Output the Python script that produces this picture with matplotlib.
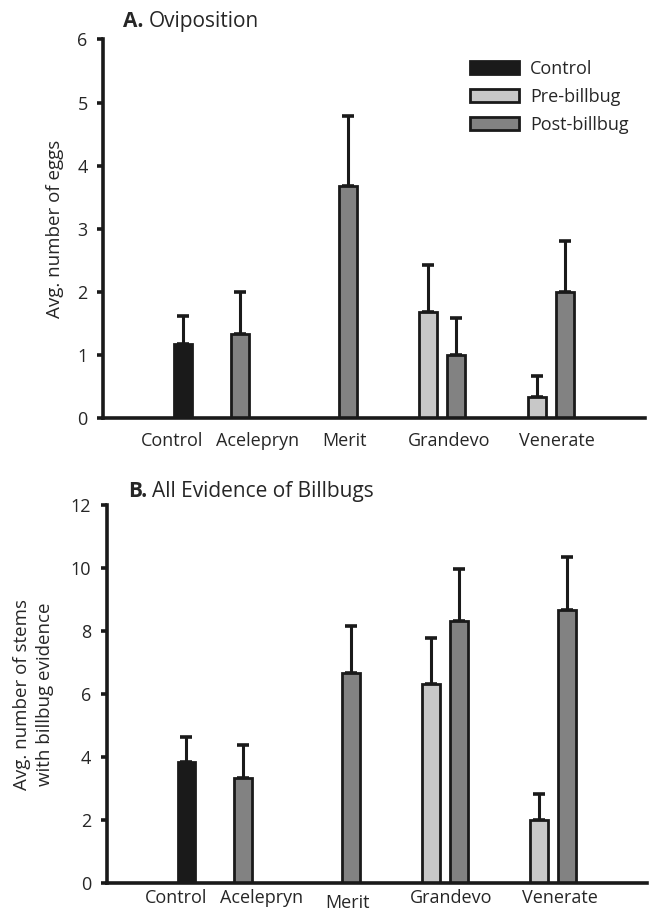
import numpy as np
import matplotlib
matplotlib.use("Agg")
import matplotlib.pyplot as plt
from matplotlib.patches import Patch
from matplotlib.transforms import blended_transform_factory, offset_copy

# ---------------- data ----------------
categories = ["Control", "Acelepryn", "Merit", "Grandevo", "Venerate"]
series_names = ["Control", "Pre-billbug", "Post-billbug"]

# Panel A: oviposition (avg. number of eggs)
a_control = [1.17, np.nan, np.nan, np.nan, np.nan]
a_control_err = [0.45, 0, 0, 0, 0]
a_pre = [np.nan, np.nan, np.nan, 1.67, 0.33]
a_pre_err = [0, 0, 0, 0.75, 0.33]
a_post = [np.nan, 1.33, 3.67, 1.00, 2.00]
a_post_err = [0, 0.67, 1.11, 0.58, 0.80]

# Panel B: all evidence of billbugs (avg. number of stems)
b_control = [3.83, np.nan, np.nan, np.nan, np.nan]
b_control_err = [0.80, 0, 0, 0, 0]
b_pre = [np.nan, np.nan, np.nan, 6.33, 2.00]
b_pre_err = [0, 0, 0, 1.45, 0.83]
b_post = [np.nan, 3.33, 6.67, 8.33, 8.67]
b_post_err = [0, 1.06, 1.49, 1.64, 1.68]

a_yticks = [0, 1, 2, 3, 4, 5, 6]
b_yticks = [0, 2, 4, 6, 8, 10, 12]

# ---------------- style ----------------
plt.rcParams["font.family"] = ["Open Sans", "DejaVu Sans"]
TXT = "#262626"
EDGE = "#1a1a1a"
C_CTRL = "#1a1a1a"
C_PRE = "#c8c8c8"
C_POST = "#828282"
FS = 13

W, H = 668, 911
fig = plt.figure(figsize=(W / 100, H / 100), dpi=100)


def rect(l, r, t, b):
    return [l / W, 1 - b / H, (r - l) / W, (b - t) / H]


axA = fig.add_axes(rect(103, 645, 39.5, 417.7))
axB = fig.add_axes(rect(106.5, 647, 505, 883))

offsets = {"Control": 0.74, "Pre-billbug": 0.0, "Post-billbug": 0.26}
colors = {"Control": C_CTRL, "Pre-billbug": C_PRE, "Post-billbug": C_POST}
label_x = [0.64, 1.43, 2.23, 3.19, 4.19]
BW = 0.165


def draw(ax, ctrl, ctrl_e, pre, pre_e, post, post_e, yticks, label_dy, merit_extra):
    idx = np.arange(len(categories))
    for name, vals, errs in [("Control", ctrl, ctrl_e),
                             ("Pre-billbug", pre, pre_e),
                             ("Post-billbug", post, post_e)]:
        v = np.array(vals, float)
        e = np.array(errs, float)
        m = ~np.isnan(v)
        ax.bar(idx[m] + offsets[name], v[m], width=BW, color=colors[name],
               edgecolor=EDGE, linewidth=2, zorder=2,
               yerr=[np.zeros(m.sum()), e[m]],
               error_kw=dict(ecolor=EDGE, elinewidth=2.2, capsize=4.5,
                             capthick=2.6, zorder=1))
    ax.set_xlim(0, 5)
    ax.set_ylim(yticks[0], yticks[-1])
    ax.set_yticks(yticks)
    for s in ["top", "right"]:
        ax.spines[s].set_visible(False)
    for s in ["left", "bottom"]:
        ax.spines[s].set_linewidth(2.6)
        ax.spines[s].set_color(EDGE)
        ax.spines[s].set_zorder(3)
    ax.tick_params(axis="y", direction="out", length=4, width=2.6,
                   color=EDGE, labelsize=FS, labelcolor=TXT, pad=7)
    ax.tick_params(axis="x", length=0, labelbottom=False)
    base = blended_transform_factory(ax.transData, ax.transAxes)
    for x, lab in zip(label_x, categories):
        dy = label_dy + (merit_extra if lab == "Merit" else 0)
        tr = offset_copy(base, fig=fig, x=0, y=-dy, units="dots")
        ax.text(x, 0, lab, transform=tr, ha="center", va="center",
                fontsize=FS, color=TXT)


draw(axA, a_control, a_control_err, a_pre, a_pre_err, a_post, a_post_err,
     a_yticks, 23, 0)
draw(axB, b_control, b_control_err, b_pre, b_pre_err, b_post, b_post_err,
     b_yticks, 15, 5)

# y labels
fig.text(55 / W, 1 - 228.6 / H, "Avg. number of eggs", rotation=90,
         ha="center", va="center", fontsize=13.5, color=TXT)
fig.text(33.5 / W, 1 - 694 / H, "Avg. number of stems\nwith billbug evidence",
         rotation=90, ha="center", va="center", fontsize=13.5, color=TXT,
         linespacing=1.3, multialignment="center")

# panel titles (bold letter + normal text)
renderer = fig.canvas.get_renderer()


def title(x, y, letter, rest, size):
    t = fig.text(x / W, 1 - y / H, letter, fontsize=size, weight="bold",
                 ha="left", va="center", color=TXT)
    bb = t.get_window_extent(renderer=renderer)
    fig.text((bb.x1 + 5) / W, 1 - y / H, rest, fontsize=size, ha="left",
             va="center", color=TXT)


title(123, 21.5, "A.", "Oviposition", 15)
title(128, 491.5, "B.", "All Evidence of Billbugs", 15)

# legend
handles = [Patch(facecolor=colors[n], edgecolor=EDGE, linewidth=2, label=n)
           for n in series_names]
axA.legend(handles=handles, loc="upper left",
           bbox_to_anchor=(470 / W, 1 - 60 / H), bbox_transform=fig.transFigure,
           frameon=False, fontsize=FS, handlelength=2.71, handleheight=0.72,
           handletextpad=0.6, labelspacing=0.56, borderpad=0, borderaxespad=0,
           labelcolor=TXT)

fig.savefig("out.png", dpi=100, facecolor="white")
